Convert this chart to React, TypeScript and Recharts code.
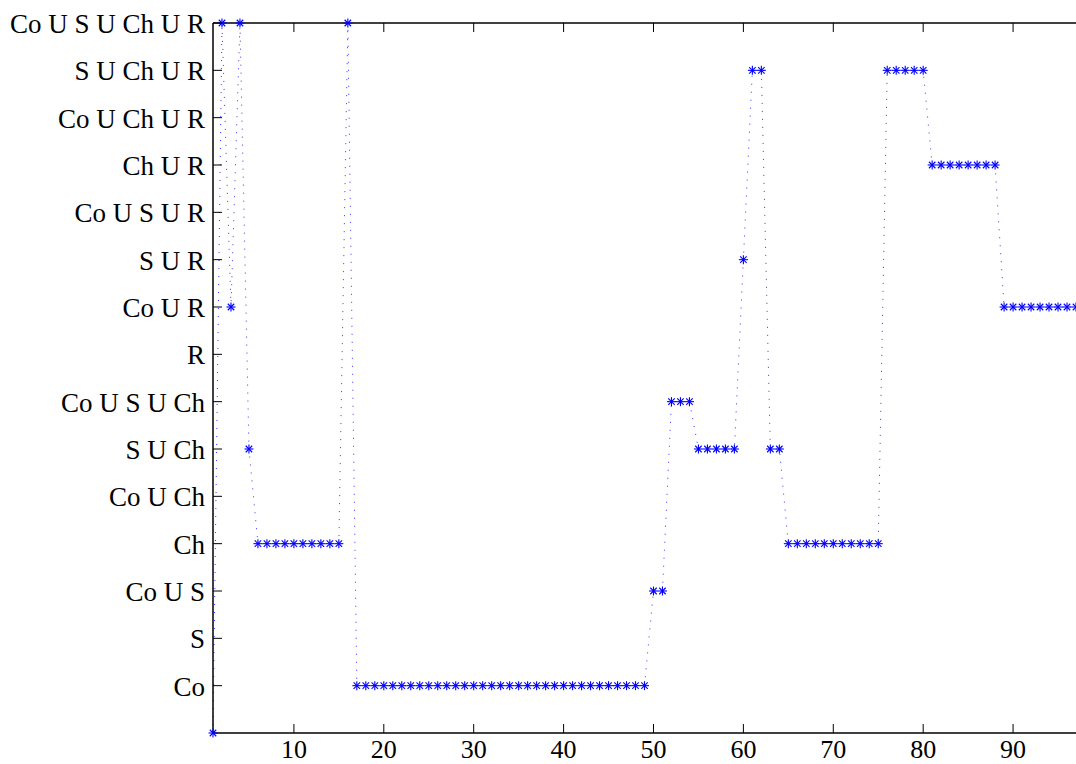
import { LineChart, Line, XAxis, YAxis } from "recharts";

// category labels for y levels 0..15 (0 has no label)
const levelLabels = [
  "",
  "Co",
  "S",
  "Co U S",
  "Ch",
  "Co U Ch",
  "S U Ch",
  "Co U S U Ch",
  "R",
  "Co U R",
  "S U R",
  "Co U S U R",
  "Ch U R",
  "Co U Ch U R",
  "S U Ch U R",
  "Co U S U Ch U R",
];

// state level at each step 1..97
const levels = [
  0, 15, 9, 15, 6,
  4, 4, 4, 4, 4, 4, 4, 4, 4, 4,
  15,
  1, 1, 1, 1, 1, 1, 1, 1, 1, 1, 1, 1, 1, 1, 1, 1, 1,
  1, 1, 1, 1, 1, 1, 1, 1, 1, 1, 1, 1, 1, 1, 1, 1,
  3, 3,
  7, 7, 7,
  6, 6, 6, 6, 6,
  10,
  14, 14,
  6, 6,
  4, 4, 4, 4, 4, 4, 4, 4, 4, 4, 4,
  14, 14, 14, 14, 14,
  12, 12, 12, 12, 12, 12, 12, 12,
  9, 9, 9, 9, 9, 9, 9, 9, 9,
];

const xTicks = [10, 20, 30, 40, 50, 60, 70, 80, 90];
const yTicks = [1, 2, 3, 4, 5, 6, 7, 8, 9, 10, 11, 12, 13, 14, 15];

const data = levels.map((v, i) => ({ step: i + 1, level: v }));

const FONT = "'Liberation Serif', 'Times New Roman', serif";
const BLUE = "#0000ff";

const Star = (props: any) => {
  const { cx, cy, index } = props;
  if (cx == null || cy == null) return null;
  const r = 4.5;
  const d = r * 0.72;
  return (
    <g key={`star-${index}`} stroke={BLUE} strokeWidth={1.1}>
      <line x1={cx - r} y1={cy} x2={cx + r} y2={cy} />
      <line x1={cx} y1={cy - r} x2={cx} y2={cy + r} />
      <line x1={cx - d} y1={cy - d} x2={cx + d} y2={cy + d} />
      <line x1={cx - d} y1={cy + d} x2={cx + d} y2={cy - d} />
    </g>
  );
};

const LeftTick = (props: any) => {
  const { x, y, payload } = props;
  return (
    <g>
      <line x1={x} y1={y} x2={x + 9} y2={y} stroke="#000" strokeWidth={1} />
      <text x={x - 8} y={y + 10} textAnchor="end" fontFamily={FONT} fontSize={27} fill="#000">
        {levelLabels[payload.value]}
      </text>
    </g>
  );
};

const BottomTick = (props: any) => {
  const { x, y, payload } = props;
  return (
    <g>
      <line x1={x} y1={y} x2={x} y2={y - 9} stroke="#000" strokeWidth={1} />
      <text x={x} y={y + 25} textAnchor="middle" fontFamily={FONT} fontSize={26} fill="#000">
        {payload.value}
      </text>
    </g>
  );
};

const TopTick = (props: any) => {
  const { x, y } = props;
  return <line x1={x} y1={y} x2={x} y2={y + 9} stroke="#000" strokeWidth={1} />;
};

export default function App() {
  return (
    <div style={{ position: "fixed", left: 0, top: 0, width: 1076, height: 764, background: "#fff" }}>
      <LineChart width={1076} height={764} data={data} margin={{ top: 22, right: 0, bottom: 0, left: 0 }}>
        <XAxis
          dataKey="step"
          type="number"
          domain={[1, 97]}
          ticks={xTicks}
          height={31}
          tickSize={0}
          tickMargin={0}
          tickLine={false}
          axisLine={{ stroke: "#000", strokeWidth: 1.5 }}
          tick={<BottomTick />}
        />
        <XAxis
          xAxisId="top"
          dataKey="step"
          type="number"
          orientation="top"
          domain={[1, 97]}
          ticks={xTicks}
          height={1}
          tickSize={0}
          tickMargin={0}
          tickLine={false}
          axisLine={{ stroke: "#000", strokeWidth: 1.5 }}
          tick={<TopTick />}
        />
        <YAxis
          type="number"
          domain={[0, 15]}
          ticks={yTicks}
          width={213}
          tickSize={0}
          tickMargin={0}
          tickLine={false}
          axisLine={{ stroke: "#000", strokeWidth: 1.5 }}
          tick={<LeftTick />}
          interval={0}
        />
        <Line
          type="linear"
          dataKey="level"
          stroke={BLUE}
          strokeWidth={1}
          strokeDasharray="1 7"
          strokeOpacity={0.8}
          dot={Star}
          activeDot={false}
          isAnimationActive={false}
        />
      </LineChart>
    </div>
  );
}
